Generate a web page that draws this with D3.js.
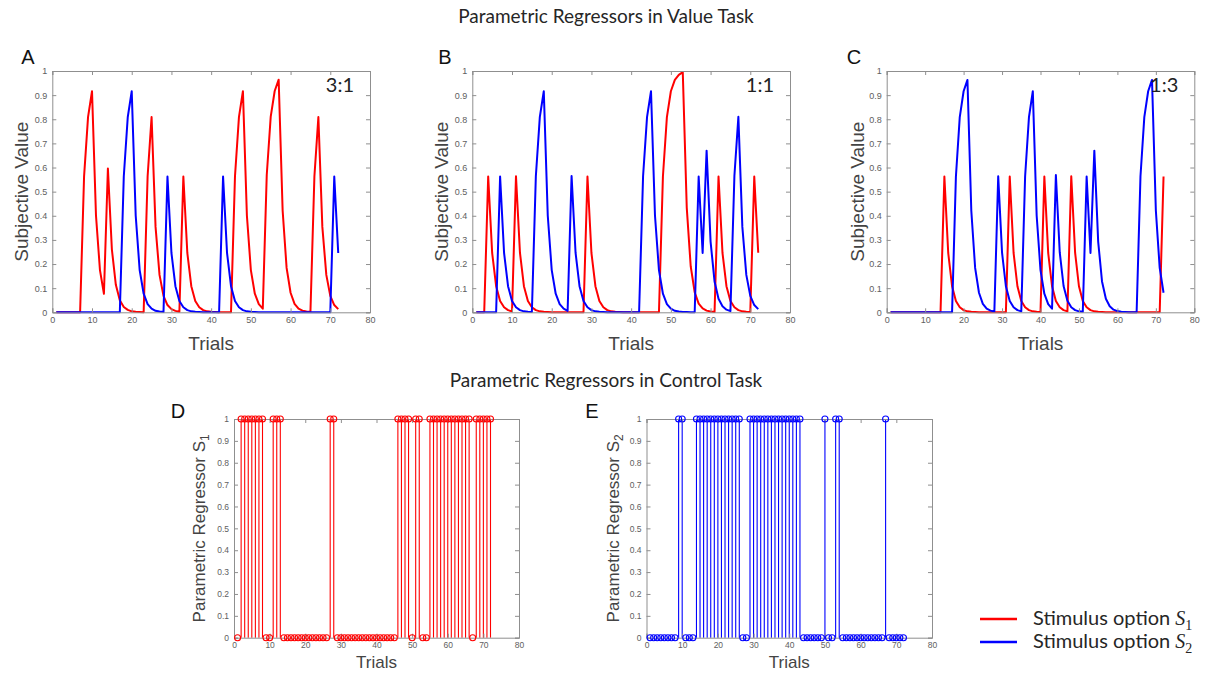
<!DOCTYPE html>
<html><head><meta charset="utf-8">
<script src="https://cdn.jsdelivr.net/npm/d3@7"></script>
<style>body{margin:0;background:#fff} svg{display:block}</style>
</head><body><svg id="c" width="1210" height="675"></svg>
<script>
// ---------- data ----------
const trials = d3.range(1, 73);
const trialTicks = [0, 10, 20, 30, 40, 50, 60, 70, 80];
const valueTicks = [0, 0.1, 0.2, 0.3, 0.4, 0.5, 0.6, 0.7, 0.8, 0.9, 1];
const panelLetters = ["A", "B", "C"];
const ratios = ["3:1", "1:1", "1:3"];
const seriesNames = ["Stimulus option ", "Stimulus option "];

const valueA_S1 = [0,0,0,0,0,0,0, 0.563,0.809,0.916, 0.401,0.175,0.077, 0.596, 0.261,0.114,0.050,0.022,0.010,0.004,0.002,0.001,0, 0.563,0.809, 0.354,0.155,0.068,0.030,0.013,0.006,0.002, 0.563, 0.246,0.108,0.047,0.021,0.009,0.004,0.002,0.001,0,0,0,0, 0.563,0.809,0.916, 0.401,0.175,0.077,0.034,0.015, 0.569,0.811,0.917,0.964, 0.422,0.184,0.081,0.035,0.015,0.007,0.003,0.001, 0.563,0.809, 0.354,0.155,0.068,0.030,0.013];
const valueA_S2 = [0,0,0,0,0,0,0,0,0,0,0,0,0,0,0,0,0, 0.563,0.809,0.916, 0.401,0.175,0.077,0.034,0.015,0.006,0.003,0.001, 0.563, 0.246,0.108,0.047,0.021,0.009,0.004,0.002,0.001, 0,0,0,0,0, 0.563, 0.246,0.108,0.047,0.021,0.009,0.004,0.002,0.001, 0,0,0,0,0,0,0,0,0,0,0,0,0,0,0,0,0,0,0, 0.563,0.246];
const valueB_S1 = [0,0,0, 0.563, 0.246,0.108,0.047,0.021,0.009,0.004, 0.564, 0.247,0.108,0.047,0.021,0.009,0.004,0.002,0.001, 0,0,0,0,0,0,0,0,0, 0.563, 0.246,0.108,0.047,0.021,0.009,0.004,0.002,0.001, 0,0,0,0,0,0,0,0,0,0, 0.563,0.809,0.916,0.963,0.984,0.995, 0.434,0.190,0.083,0.036,0.016,0.007,0.003,0.001, 0.563, 0.246,0.108,0.047,0.021,0.009,0.004,0.002,0.001, 0.563,0.247];
const valueB_S2 = [0,0,0,0,0,0, 0.563, 0.246,0.108,0.047,0.021,0.009,0.004,0.002,0.001, 0.563,0.809,0.916, 0.401,0.175,0.077,0.034,0.015,0.006, 0.565, 0.247,0.108,0.047,0.021,0.009,0.004,0.002,0.001, 0,0,0,0,0,0,0,0,0, 0.563,0.809,0.916, 0.401,0.175,0.077,0.034,0.015,0.006,0.003,0.001,0.001,0,0, 0.563, 0.246, 0.670, 0.293,0.128,0.056,0.025,0.011,0.005, 0.565,0.810, 0.354,0.155,0.068,0.030,0.013];
const valueC_S1 = [0,0,0,0,0,0,0,0,0,0,0,0,0,0, 0.563, 0.246,0.108,0.047,0.021,0.009,0.004,0.002,0.001, 0,0,0,0,0,0,0,0, 0.563, 0.246,0.108,0.047,0.021,0.009,0.004,0.002,0.001, 0.563, 0.246,0.108,0.047,0.021,0.009,0.004, 0.564, 0.247,0.108,0.047,0.021,0.009,0.004,0.002,0.001, 0,0,0,0,0,0,0,0,0,0,0,0,0,0,0, 0.563];
const valueC_S2 = [0,0,0,0,0,0,0,0,0,0,0,0,0,0,0,0,0, 0.563,0.809,0.916,0.963, 0.422,0.184,0.081,0.035,0.015,0.007,0.003, 0.564, 0.247,0.108,0.047,0.021,0.009,0.004, 0.564,0.809,0.916, 0.401,0.175,0.077,0.034,0.015, 0.569, 0.249,0.109,0.048,0.021,0.009,0.004,0.002, 0.563, 0.246, 0.670, 0.293,0.128,0.056,0.025,0.011,0.005,0.002,0.001,0,0,0, 0.563,0.809,0.916,0.963, 0.422,0.184,0.081];

const controlS1 = [0, 1,1,1,1,1,1,1, 0,0, 1,1,1, 0,0,0,0,0,0,0,0,0,0,0,0,0, 1,1, 0,0,0,0,0,0,0,0,0,0,0,0,0,0,0,0,0, 1,1,1,1, 0, 1,1, 0,0, 1,1,1,1,1,1,1,1,1,1,1,1, 0, 1,1,1,1,1];
const controlS2 = [0,0,0,0,0,0,0,0, 1,1, 0,0,0, 1,1,1,1,1,1,1,1,1,1,1,1,1, 0,0, 1,1,1,1,1,1,1,1,1,1,1,1,1,1,1, 0,0,0,0,0,0, 1, 0,0, 1,1, 0,0,0,0,0,0,0,0,0,0,0,0, 1, 0,0,0,0,0];

// ---------- styling ----------
const RED = "#ff0000", BLUE = "#0000ff";
const AXC = "#8f8f8f", TICKTXT = "#606060", LBL = "#444444";
const SANS = "'Liberation Sans', Arial, sans-serif";
const CAL = "Lato, 'Open Sans', sans-serif";

const svg = d3.select("#c");

function drawAxes(g, x, y, tickFont) {
  const [x0, x1] = x.range(), [yb, yt] = y.range();
  const fmt = d => String(d);
  const bottom = g.append("g").attr("transform", `translate(0,${yb})`)
    .call(d3.axisBottom(x).tickValues(trialTicks).tickSize(-4).tickPadding(4).tickFormat(fmt));
  const top = g.append("g").attr("transform", `translate(0,${yt})`)
    .call(d3.axisTop(x).tickValues(trialTicks).tickSize(-4).tickFormat(""));
  const left = g.append("g").attr("transform", `translate(${x0},0)`)
    .call(d3.axisLeft(y).tickValues(valueTicks).tickSize(-4).tickPadding(5).tickFormat(fmt));
  const right = g.append("g").attr("transform", `translate(${x1},0)`)
    .call(d3.axisRight(y).tickValues(valueTicks).tickSize(-4).tickFormat(""));
  [bottom, top, left, right].forEach(a => {
    a.select(".domain").attr("stroke", AXC);
    a.selectAll(".tick line").attr("stroke", AXC);
    a.selectAll("text").attr("fill", TICKTXT).style("font-family", SANS).style("font-size", tickFont + "px");
  });
}

// ---------- titles ----------
svg.append("text").attr("x", 606).attr("y", 23).attr("text-anchor", "middle")
  .style("font-family", CAL).style("font-size", "19px").attr("fill", "#262626")
  .text("Parametric Regressors in Value Task");
svg.append("text").attr("x", 606).attr("y", 387).attr("text-anchor", "middle")
  .style("font-family", CAL).style("font-size", "19px").attr("fill", "#262626")
  .text("Parametric Regressors in Control Task");

// ---------- value panels ----------
const valuePanels = [
  { s1: valueA_S1, s2: valueA_S2, xr: [52.3, 370], yr: [312.3, 71], letterX: 28, ylabX: 21 },
  { s1: valueB_S1, s2: valueB_S2, xr: [472.3, 790], yr: [312.3, 71], letterX: 445, ylabX: 441 },
  { s1: valueC_S1, s2: valueC_S2, xr: [886.7, 1194.3], yr: [312.3, 71], letterX: 854, ylabX: 857 }
];

valuePanels.forEach((p, k) => {
  const g = svg.append("g");
  const x = d3.scaleLinear().domain([0, 80]).range(p.xr);
  const y = d3.scaleLinear().domain([0, 1]).range(p.yr);
  g.append("rect").attr("x", p.xr[0]).attr("y", p.yr[1]).attr("width", p.xr[1] - p.xr[0])
    .attr("height", p.yr[0] - p.yr[1]).attr("fill", "#fff");
  const line = d3.line().x((d, i) => x(trials[i])).y(d => y(d));
  g.append("path").datum(p.s1).attr("d", line).attr("fill", "none").attr("stroke", RED)
    .attr("stroke-width", 2).attr("stroke-linejoin", "round");
  g.append("path").datum(p.s2).attr("d", line).attr("fill", "none").attr("stroke", BLUE)
    .attr("stroke-width", 2).attr("stroke-linejoin", "round");
  drawAxes(g, x, y, 9);
  g.append("text").attr("x", p.xr[1] - 16).attr("y", 92).attr("text-anchor", "end")
    .style("font-family", CAL).style("font-size", "20px").attr("fill", "#222").text(ratios[k]);
  g.append("text").attr("x", p.letterX).attr("y", 64).attr("text-anchor", "middle")
    .style("font-family", SANS).style("font-size", "20px").attr("fill", "#111").text(panelLetters[k]);
  g.append("text").attr("transform", `translate(${p.ylabX},${(p.yr[0] + p.yr[1]) / 2}) rotate(-90)`)
    .attr("text-anchor", "middle").attr("dy", "0.35em")
    .style("font-family", SANS).style("font-size", "19px").attr("fill", LBL).text("Subjective Value");
  g.append("text").attr("x", (p.xr[0] + p.xr[1]) / 2).attr("y", 350).attr("text-anchor", "middle")
    .style("font-family", SANS).style("font-size", "19px").attr("fill", LBL).text("Trials");
});

// ---------- control panels ----------
const controlPanels = [
  { v: controlS1, color: RED, xr: [234, 519], yr: [637.7, 419], letter: "D", letterX: 178, ylabX: 199, sub: "1" },
  { v: controlS2, color: BLUE, xr: [646.5, 932], yr: [637.7, 419], letter: "E", letterX: 592, ylabX: 613, sub: "2" }
];

controlPanels.forEach(p => {
  const g = svg.append("g");
  const x = d3.scaleLinear().domain([0, 80]).range(p.xr);
  const y = d3.scaleLinear().domain([0, 1]).range(p.yr);
  g.selectAll("line.stem").data(p.v).join("line").attr("class", "stem")
    .attr("x1", (d, i) => x(trials[i])).attr("x2", (d, i) => x(trials[i]))
    .attr("y1", y(0)).attr("y2", d => y(d)).attr("stroke", p.color).attr("stroke-width", 1.1);
  drawAxes(g, x, y, 8.5);
  g.selectAll("circle").data(p.v).join("circle")
    .attr("cx", (d, i) => x(trials[i])).attr("cy", d => y(d)).attr("r", 3)
    .attr("fill", "none").attr("stroke", p.color).attr("stroke-width", 1.1);
  g.append("text").attr("x", p.letterX).attr("y", 418).attr("text-anchor", "middle")
    .style("font-family", SANS).style("font-size", "20px").attr("fill", "#111").text(p.letter);
  const t = g.append("text").attr("transform", `translate(${p.ylabX},${(p.yr[0] + p.yr[1]) / 2}) rotate(-90)`)
    .attr("text-anchor", "middle").attr("dy", "0.35em")
    .style("font-family", SANS).style("font-size", "17px").attr("fill", LBL);
  t.append("tspan").text("Parametric Regressor S");
  t.append("tspan").attr("dy", "0.35em").style("font-size", "12px").text(p.sub);
  g.append("text").attr("x", (p.xr[0] + p.xr[1]) / 2).attr("y", 668).attr("text-anchor", "middle")
    .style("font-family", SANS).style("font-size", "17px").attr("fill", LBL).text("Trials");
});

// ---------- legend ----------
const legendItems = [{ c: RED, sub: "1", y: 619 }, { c: BLUE, sub: "2", y: 642 }];
legendItems.forEach((it, i) => {
  svg.append("line").attr("x1", 980).attr("x2", 1017).attr("y1", it.y).attr("y2", it.y)
    .attr("stroke", it.c).attr("stroke-width", 2.5);
  const t = svg.append("text").attr("x", 1033).attr("y", it.y + 6)
    .style("font-family", CAL).style("font-size", "20px").attr("fill", "#262626");
  t.append("tspan").text(seriesNames[i]);
  t.append("tspan").style("font-family", "'Liberation Serif', serif").style("font-style", "italic").text("S");
  t.append("tspan").attr("dy", 5).style("font-family", "'Liberation Serif', serif").style("font-size", "14px").text(it.sub);
});
</script></body></html>
